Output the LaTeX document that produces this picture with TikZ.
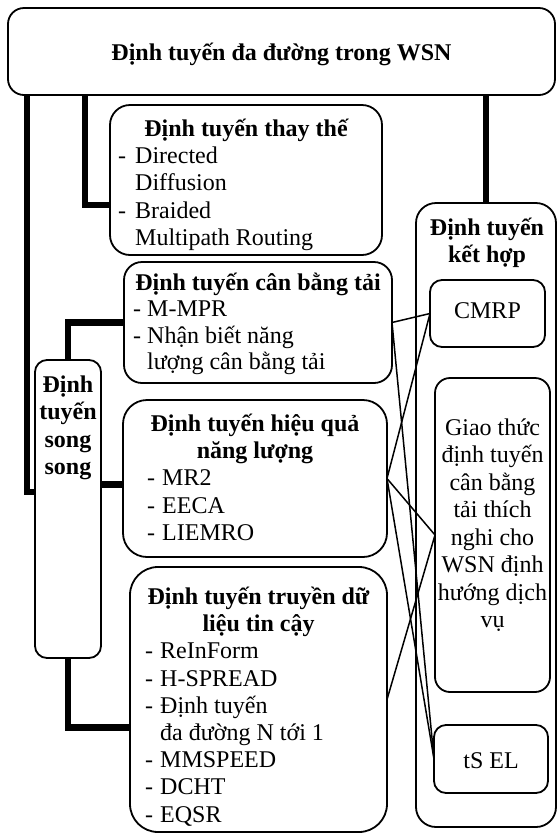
\documentclass[tikz,border=0pt]{standalone}
\usepackage{fontspec}
\setmainfont{Liberation Serif}
\begin{document}
\begin{tikzpicture}[x=1pt,y=-1pt,
  box/.style={draw=black, line width=1.8pt, fill=white, inner sep=0pt, outer sep=0pt},
  bus/.style={line width=6.5pt, draw=black},
  link/.style={line width=1.5pt, draw=black},
  txt/.style={font=\fontsize{24pt}{27.5pt}\selectfont, inner sep=0pt, anchor=base},
  txtl/.style={txt, anchor=base west},
  btxt/.style={font=\fontsize{24pt}{27.5pt}\selectfont\bfseries, inner sep=0pt, anchor=base},
]
\useasboundingbox (0,0) rectangle (558,839);

% boxes
\node[box, rounded corners=16pt, minimum width=547pt, minimum height=87pt] (top) at (281.5,51.5) {};
\node[box, rounded corners=20pt, minimum width=272pt, minimum height=150pt] (alt) at (246,180) {};
\node[box, rounded corners=18pt, minimum width=268pt, minimum height=121pt] (load) at (258,322.5) {};
\node[box, rounded corners=12pt, minimum width=66pt, minimum height=298pt] (song) at (68,509) {};
\node[box, rounded corners=24pt, minimum width=264pt, minimum height=157pt] (ee) at (255,478.5) {};
\node[box, rounded corners=28pt, minimum width=257pt, minimum height=265pt] (rel) at (258.5,699.5) {};
\node[box, rounded corners=20pt, minimum width=140pt, minimum height=624pt] (combo) at (486,515) {};
\node[box, rounded corners=12pt, minimum width=115pt, minimum height=67pt] (cmrp) at (487.5,313.5) {};
\node[box, rounded corners=15pt, minimum width=115pt, minimum height=314pt] (giao) at (492.5,535) {};
\node[box, rounded corners=12pt, minimum width=114pt, minimum height=68pt] (tsel) at (491,759) {};

% thick connectors
\coordinate (lx) at (27,0);
\coordinate (ax) at (85,0);
\draw[bus] (lx |- top.south) |- ([yshift=17pt]song.west);
\draw[bus] (ax |- top.south) |- ([yshift=-25pt]alt.west);
\draw[bus] (top.south -| combo.north) -- (combo.north);
\draw[bus] (song.north) |- (load.west);
\coordinate (eein) at ([yshift=-6pt]ee.west);
\draw[bus] (eein -| song.east) -- (eein);
\draw[bus] (song.south) |- ([yshift=-28pt]rel.west);

% thin connectors
\draw[link] (load.east) -- (cmrp.west);
\draw[link] (cmrp.west) -- (ee.east);
\draw[link] (load.east) -- (tsel.west);
\draw[link] (ee.east) -- (giao.west);
\draw[link] (ee.east) -- (tsel.west);
\draw[link] (rel.east) -- (giao.west);

% texts
\node[btxt] (topT) at (281.5,60) {Định tuyến đa đường trong WSN};

\node[btxt] (altT) at (246,136) {Định tuyến thay thế};
\node[txtl] (altd1) at (118,163) {-};
\node[txtl] (altd2) at (118,218) {-};
\foreach \lbl/\yy [count=\i] in {Directed/163, Diffusion/190.5, Braided/218, Multipath Routing/245.5}
  \node[txtl] (alt\i) at (135,\yy) {\lbl};

\node[btxt] (loadT) at (258,290) {Định tuyến cân bằng tải};
\node[txtl] (loadd1) at (133,316.5) {-};
\node[txtl] (loadd2) at (133,343) {-};
\foreach \lbl/\yy [count=\i] in {M-MPR/316.5, Nhận biết năng/343, lượng cân bằng tải/369.5}
  \node[txtl] (load\i) at (147,\yy) {\lbl};

\foreach \lbl/\yy [count=\i] in {Định/392, tuyến/419.5, song/447, song/474.5}
  \node[btxt] (song\i) at (68,\yy) {\lbl};

\node[btxt] (eeT1) at (255,431.5) {Định tuyến hiệu quả};
\node[btxt] (eeT2) at (255,458.5) {năng lượng};
\foreach \lbl/\yy [count=\i] in {MR2/485.5, EECA/513, LIEMRO/540.5}{
  \node[txtl] (eed\i) at (147,\yy) {-};
  \node[txtl] (ee\i) at (162,\yy) {\lbl};
}

\node[btxt] (relT1) at (258.5,604.5) {Định tuyến truyền dữ};
\node[btxt] (relT2) at (258.5,631.7) {liệu tin cậy};
\foreach \yy [count=\i] in {658.9, 686.1, 713.3, 767.7, 794.9, 822.1}
  \node[txtl] (reld\i) at (145,\yy) {-};
\foreach \lbl/\yy [count=\i] in {ReInForm/658.9, H-SPREAD/686.1, Định tuyến/713.3, đa đường N tới 1/740.5, MMSPEED/767.7, DCHT/794.9, EQSR/822.1}
  \node[txtl] (rel\i) at (160,\yy) {\lbl};

\node[btxt] (comboT1) at (487,235) {Định tuyến};
\node[btxt] (comboT2) at (487,262) {kết hợp};

\node[txt] (cmrpT) at (487.5,318) {CMRP};

\foreach \lbl/\yy [count=\i] in {Giao thức/435, định tuyến/462.5, cân bằng/490, tải thích/517.5, nghi cho/545, WSN định/572.5, hướng dịch/600, vụ/627.5}
  \node[txt] (giao\i) at (492.5,\yy) {\lbl};

\node[txt] (tselT) at (491,768) {tS EL};
\end{tikzpicture}
\end{document}
